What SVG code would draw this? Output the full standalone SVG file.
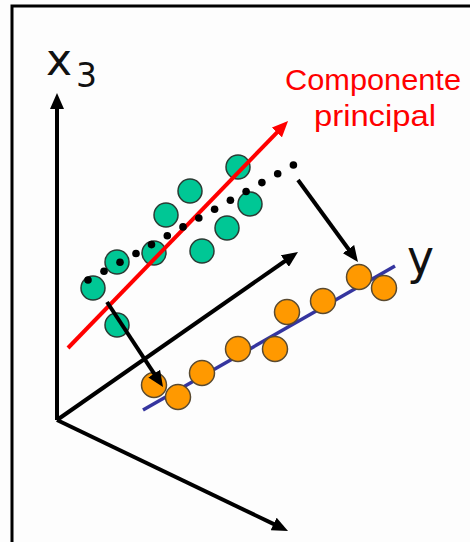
<svg xmlns="http://www.w3.org/2000/svg" width="470" height="542" viewBox="0 0 470 542">
  <style>
    .axis { stroke: #000; stroke-width: 4; fill: none; }
    .red { stroke: #ff0000; stroke-width: 4; fill: none; }
    .blue { stroke: #35359f; stroke-width: 3.5; fill: none; }
    .g { fill: #00c795; stroke: #2b3a33; stroke-width: 1.5; }
    .o { fill: #ff9900; stroke: #5a4a30; stroke-width: 1.5; }
    .dot { fill: #000; }
    .lbl { font-family: "DejaVu Sans", "Liberation Sans", sans-serif; fill: #111; }
    .pc { font-family: "Liberation Sans", "DejaVu Sans", sans-serif; fill: #ff0000; font-size: 30px; }
  </style>
  <defs>
    <marker id="ah" markerUnits="userSpaceOnUse" viewBox="0 -7 16 14" refX="2" refY="0" markerWidth="16" markerHeight="14" orient="auto">
      <path d="M0,-7 L16,0 L0,7 z" fill="#000"/>
    </marker>
    <marker id="ahr" markerUnits="userSpaceOnUse" viewBox="0 -7 16 14" refX="2" refY="0" markerWidth="16" markerHeight="14" orient="auto">
      <path d="M0,-7 L16,0 L0,7 z" fill="#ff0000"/>
    </marker>
  </defs>
  <rect x="0" y="0" width="470" height="542" fill="#fdfdfd"/>
  <rect id="frame" x="12" y="6" width="470" height="545" fill="none" stroke="#000" stroke-width="3"/>

  <g id="axes">
    <line class="axis" x1="57" y1="420" x2="57" y2="107" marker-end="url(#ah)"/>
    <line class="axis" x1="57" y1="420" x2="275.4" y2="524.9" marker-end="url(#ah)"/>
    <line class="axis" x1="57" y1="420" x2="286.5" y2="260" marker-end="url(#ah)"/>
  </g>

  <g id="y-axis-line">
    <line class="blue" x1="143" y1="410" x2="395" y2="266"/>
  </g>

  <g id="projected-points">
    <circle class="o" cx="359" cy="277" r="12.5"/>
    <circle class="o" cx="384" cy="288" r="12.5"/>
    <circle class="o" cx="323" cy="301" r="12.5"/>
    <circle class="o" cx="287" cy="312" r="12.5"/>
    <circle class="o" cx="238" cy="349" r="12.5"/>
    <circle class="o" cx="275" cy="349" r="12.5"/>
    <circle class="o" cx="202" cy="373" r="12.5"/>
    <circle class="o" cx="154" cy="385" r="12.5"/>
    <circle class="o" cx="178" cy="397" r="12.5"/>
  </g>

  <g id="data-points">
    <circle class="g" cx="238" cy="167" r="12"/>
    <circle class="g" cx="190" cy="191" r="12"/>
    <circle class="g" cx="250" cy="204" r="12"/>
    <circle class="g" cx="166" cy="215" r="12"/>
    <circle class="g" cx="227" cy="228" r="12"/>
    <circle class="g" cx="154" cy="253" r="12"/>
    <circle class="g" cx="202" cy="251" r="12"/>
    <circle class="g" cx="117" cy="262" r="12"/>
    <circle class="g" cx="93" cy="288" r="12"/>
    <circle class="g" cx="117" cy="325" r="12"/>
  </g>

  <g id="principal-component">
    <line class="red" x1="68" y1="348" x2="278.3" y2="131.1" marker-end="url(#ahr)"/>
  </g>

  <g id="dotted-line">
    <circle class="dot" cx="88" cy="280" r="3.8"/>
    <circle class="dot" cx="104" cy="271.2" r="3.8"/>
    <circle class="dot" cx="120" cy="262.3" r="3.8"/>
    <circle class="dot" cx="136" cy="253.5" r="3.8"/>
    <circle class="dot" cx="151.5" cy="244.6" r="3.8"/>
    <circle class="dot" cx="167.3" cy="235.8" r="3.8"/>
    <circle class="dot" cx="183" cy="226.9" r="3.8"/>
    <circle class="dot" cx="198.8" cy="218" r="3.8"/>
    <circle class="dot" cx="214.6" cy="209.2" r="3.8"/>
    <circle class="dot" cx="230.4" cy="200.3" r="3.8"/>
    <circle class="dot" cx="246.1" cy="191.5" r="3.8"/>
    <circle class="dot" cx="261.9" cy="182.6" r="3.8"/>
    <circle class="dot" cx="277.7" cy="173.8" r="3.8"/>
    <circle class="dot" cx="293.4" cy="165" r="3.8"/>
  </g>

  <g id="connectors">
    <line class="axis" x1="298" y1="180" x2="349.7" y2="250.7" marker-end="url(#ah)"/>
    <line class="axis" x1="107" y1="302" x2="155.3" y2="375.3" marker-end="url(#ah)"/>
  </g>

  <g id="label-x3">
    <text class="lbl" x="46" y="75" font-size="44">x</text>
    <text class="lbl" x="76" y="87" font-size="33">3</text>
  </g>
  <g id="label-y">
    <text class="lbl" x="407" y="274" font-size="48" textLength="27" lengthAdjust="spacingAndGlyphs">y</text>
  </g>
  <g id="label-pc">
    <text class="pc" x="285" y="90" textLength="176" lengthAdjust="spacingAndGlyphs">Componente</text>
    <text class="pc" x="314" y="126" textLength="122" lengthAdjust="spacingAndGlyphs">principal</text>
  </g>
</svg>
